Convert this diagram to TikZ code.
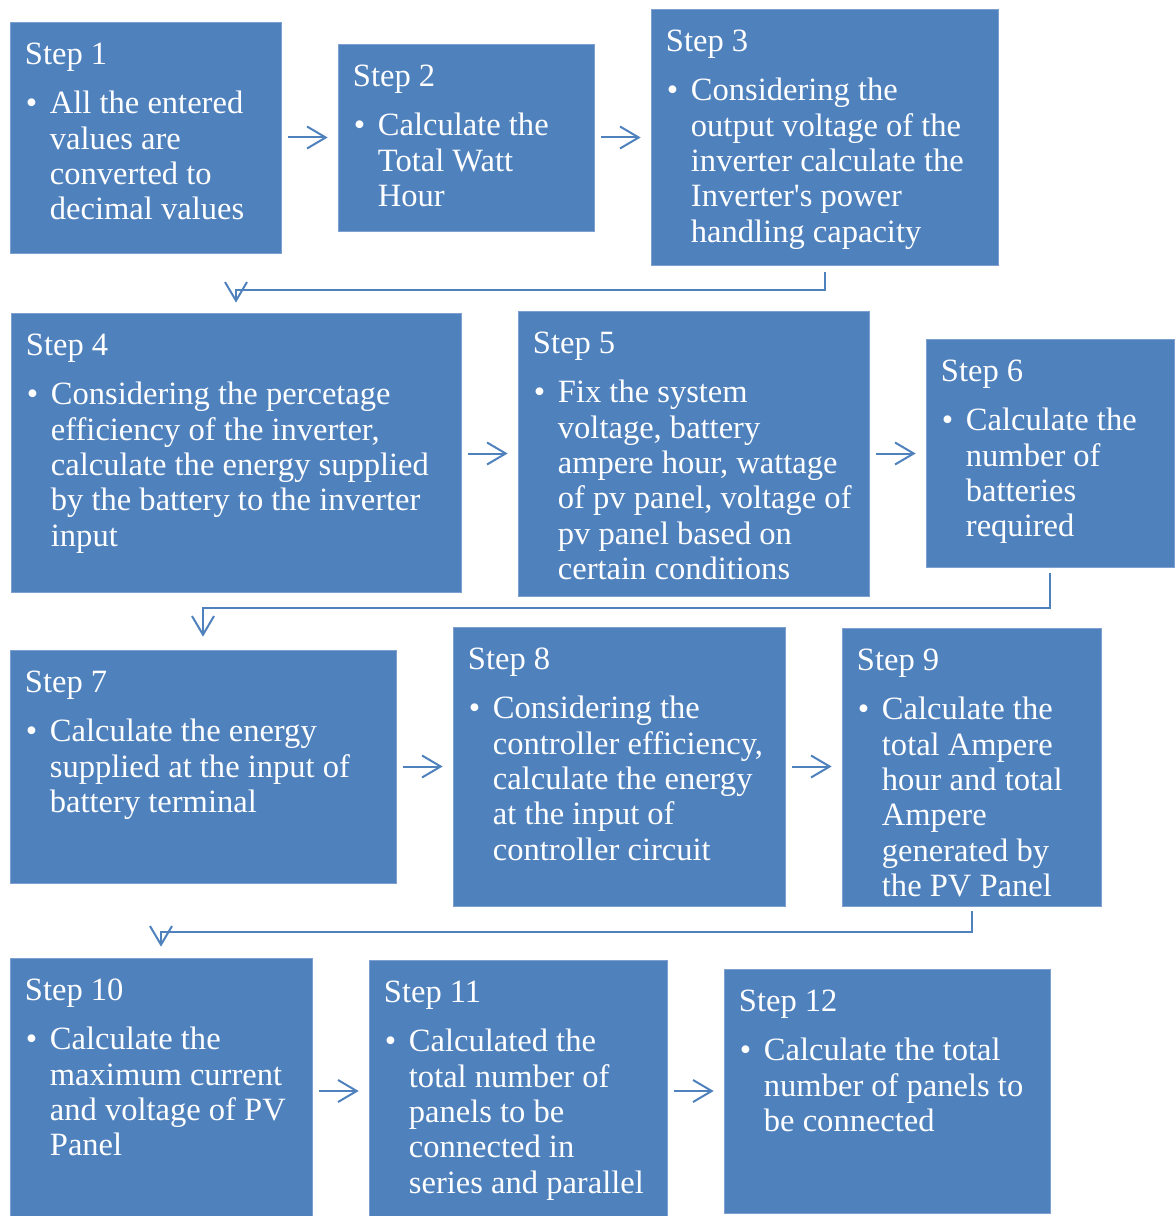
\documentclass[tikz,border=0pt]{standalone}
\usepackage{fontspec}
\setmainfont{Liberation Serif}
\usetikzlibrary{arrows.meta,fit,calc}
\definecolor{stepblue}{RGB}{79,129,189}
\definecolor{stepedge}{RGB}{125,160,208}
\tikzset{
  stepbox/.style={fill=stepblue, draw=stepedge, line width=0.5pt, inner sep=0pt},
  txt/.style={text=white, font=\fontsize{24.4}{26.6}\selectfont, inner sep=0pt, anchor=base west},
  flow/.style={draw=stepblue, line width=1.5pt, -{Straight Barb[length=14pt,width=16.5pt]}},
  hgap/.style={shorten <=5.25pt, shorten >=7.5pt},
}
% heading, bullet and the lines of one step box
\newcommand\stepcontent[3]{%
  \node[txt] (#1-h) at ($(#1.north west)+(15,43)$) {Step #2};
  \node[txt] (#1-b) at ($(#1.north west)+(16,92)$) {\textbullet};
  \foreach \ln [count=\i] in {#3} {
    \node[txt] (#1-l\i) at ($(#1.north west)+(40,{92+35.4*(\i-1)})$) {\ln};
  }
}
\begin{document}
\begin{tikzpicture}[x=0.75pt,y=-0.75pt]
\useasboundingbox (0,0) rectangle (1174,1216);

% boxes
\node[stepbox, fit={(10,22) (281,253)}] (s1) {};
\node[stepbox, fit={(338,44) (594,231)}] (s2) {};
\node[stepbox, fit={(651,9) (998,265)}] (s3) {};
\node[stepbox, fit={(11,313) (461,592)}] (s4) {};
\node[stepbox, fit={(518,311) (869,596)}] (s5) {};
\node[stepbox, fit={(926,339) (1174,567)}] (s6) {};
\node[stepbox, fit={(10,650) (396,883)}] (s7) {};
\node[stepbox, fit={(453,627) (785,906)}] (s8) {};
\node[stepbox, fit={(842,628) (1101,906)}] (s9) {};
\node[stepbox, fit={(10,958) (312,1216)}] (s10) {};
\node[stepbox, fit={(369,960) (667,1216)}] (s11) {};
\node[stepbox, fit={(724,969) (1050,1213)}] (s12) {};

% texts
\stepcontent{s1}{1}{All the entered, values are, converted to, decimal values}
\stepcontent{s2}{2}{Calculate the, Total Watt, Hour}
\stepcontent{s3}{3}{Considering the, output voltage of the, inverter calculate the, Inverter\textquotesingle s power, handling capacity}
\stepcontent{s4}{4}{Considering the percetage, {efficiency of the inverter,}, calculate the energy supplied, by the battery to the inverter, input}
\stepcontent{s5}{5}{Fix the system, {voltage, battery}, {ampere hour, wattage}, {of pv panel, voltage of}, pv panel based on, certain conditions}
\stepcontent{s6}{6}{Calculate the, number of, batteries, required}
\stepcontent{s7}{7}{Calculate the energy, supplied at the input of, battery terminal}
\stepcontent{s8}{8}{Considering the, {controller efficiency,}, calculate the energy, at the input of, controller circuit}
\stepcontent{s9}{9}{Calculate the, total Ampere, hour and total, Ampere, generated by, the PV Panel}
\stepcontent{s10}{10}{Calculate the, maximum current, and voltage of PV, Panel}
\stepcontent{s11}{11}{Calculated the, total number of, panels to be, connected in, series and parallel}
\stepcontent{s12}{12}{Calculate the total, number of panels to, be connected}

% arrows within rows
\draw[flow, hgap] (s1.east) -- (s2.west);
\draw[flow, hgap] (s2.east) -- (s3.west |- s2);
\draw[flow, hgap] (s4.east |- s5) -- (s5.west);
\draw[flow, hgap] (s5.east) -- (s6.west |- s5);
\draw[flow, hgap] (s7.east) -- (s8.west |- s7);
\draw[flow, hgap] (s8.east) -- (s9.west |- s8);
\draw[flow, hgap] (s10.east |- s12) -- (s11.west |- s12);
\draw[flow, hgap] (s11.east |- s12) -- (s12.west);

% elbow connectors between rows
\coordinate (k34) at (825,290);
\coordinate (k67) at (1051,608);
\coordinate (k910) at (972,932);
\draw[flow, shorten <=5.25pt, shorten >=7.5pt] (s3.south) -- (s3.south |- k34) -- (s4.north |- k34) -- (s4.north);
\draw[flow, shorten <=4.5pt, shorten >=9.75pt] (s6.south) -- (s6.south |- k67) -- (s7.north |- k67) -- (s7.north);
\draw[flow, shorten <=3.75pt, shorten >=8.25pt] (s9.south) -- (s9.south |- k910) -- (s10.north |- k910) -- (s10.north);
\end{tikzpicture}
\end{document}
